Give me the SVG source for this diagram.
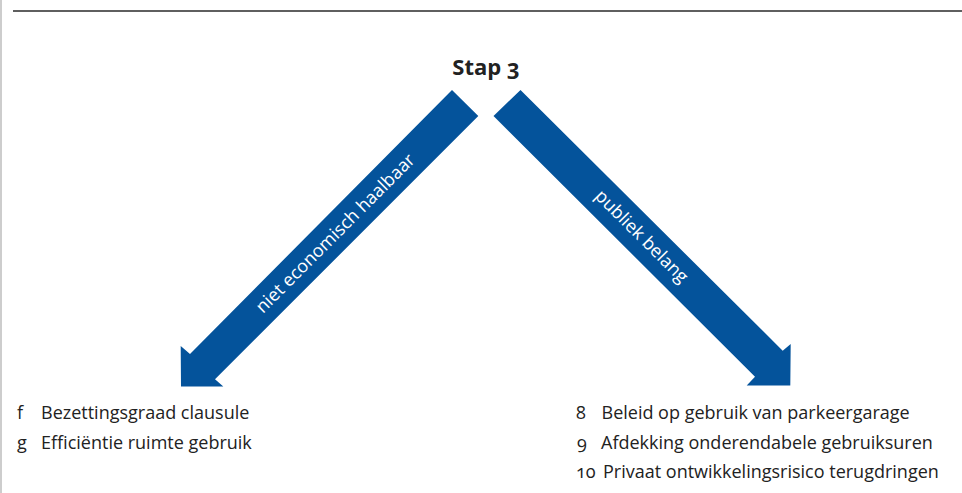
<svg xmlns="http://www.w3.org/2000/svg" width="962" height="493" viewBox="0 0 962 493">
<style>
  .t { font-family: "Open Sans", "Noto Sans", "DejaVu Sans", sans-serif; font-size: 18px; fill: #222; font-variant-numeric: oldstyle-nums; }
  .w { font-family: "Open Sans", "Noto Sans", "DejaVu Sans", sans-serif; font-size: 18px; fill: #fff; }
  .arrow { fill: #04539b; }
</style>
<rect width="962" height="493" fill="#fff"/>
<line x1="1" y1="0" x2="1" y2="493" stroke="#bdbdbd" stroke-width="1.5"/>
<line x1="13" y1="11" x2="962" y2="11" stroke="#2a2a2a" stroke-width="1.6"/>

<g id="stap3">
  <text class="t" x="486" y="74.5" text-anchor="middle" style="font-weight:bold;font-size:22px">Stap 3</text>
</g>

<g id="connectors">
  <g id="arrow-left">
    <polygon class="arrow" points="452,90 478.3,116 215,379.3 223.3,386.5 181,386.5 180.7,346 190,354"/>
    <text class="w" transform="translate(336,234) rotate(-45)" y="5" text-anchor="middle">niet economisch haalbaar</text>
  </g>
  <g id="arrow-right">
    <polygon class="arrow" points="520.5,90 782.7,350.7 790.7,344 790.3,385.5 746.7,385.5 755,376.7 493.5,116"/>
    <text class="w" transform="translate(641,237) rotate(45)" y="5" text-anchor="middle">publiek belang</text>
  </g>
</g>

<g id="list-left">
  <text class="t" x="17" y="418.5">f</text>
  <text class="t" x="41" y="418.5">Bezettingsgraad clausule</text>
  <text class="t" x="17" y="449">g</text>
  <text class="t" x="41" y="449">Efficiëntie ruimte gebruik</text>
</g>

<g id="list-right">
  <text class="t" x="576" y="418.5">8</text>
  <text class="t" x="601.5" y="418.5">Beleid op gebruik van parkeergarage</text>
  <text class="t" x="577" y="449">9</text>
  <text class="t" x="601" y="449">Afdekking onderendabele gebruiksuren</text>
  <text class="t" x="576" y="478">10</text>
  <text class="t" x="603" y="478">Privaat ontwikkelingsrisico terugdringen</text>
</g>
</svg>
